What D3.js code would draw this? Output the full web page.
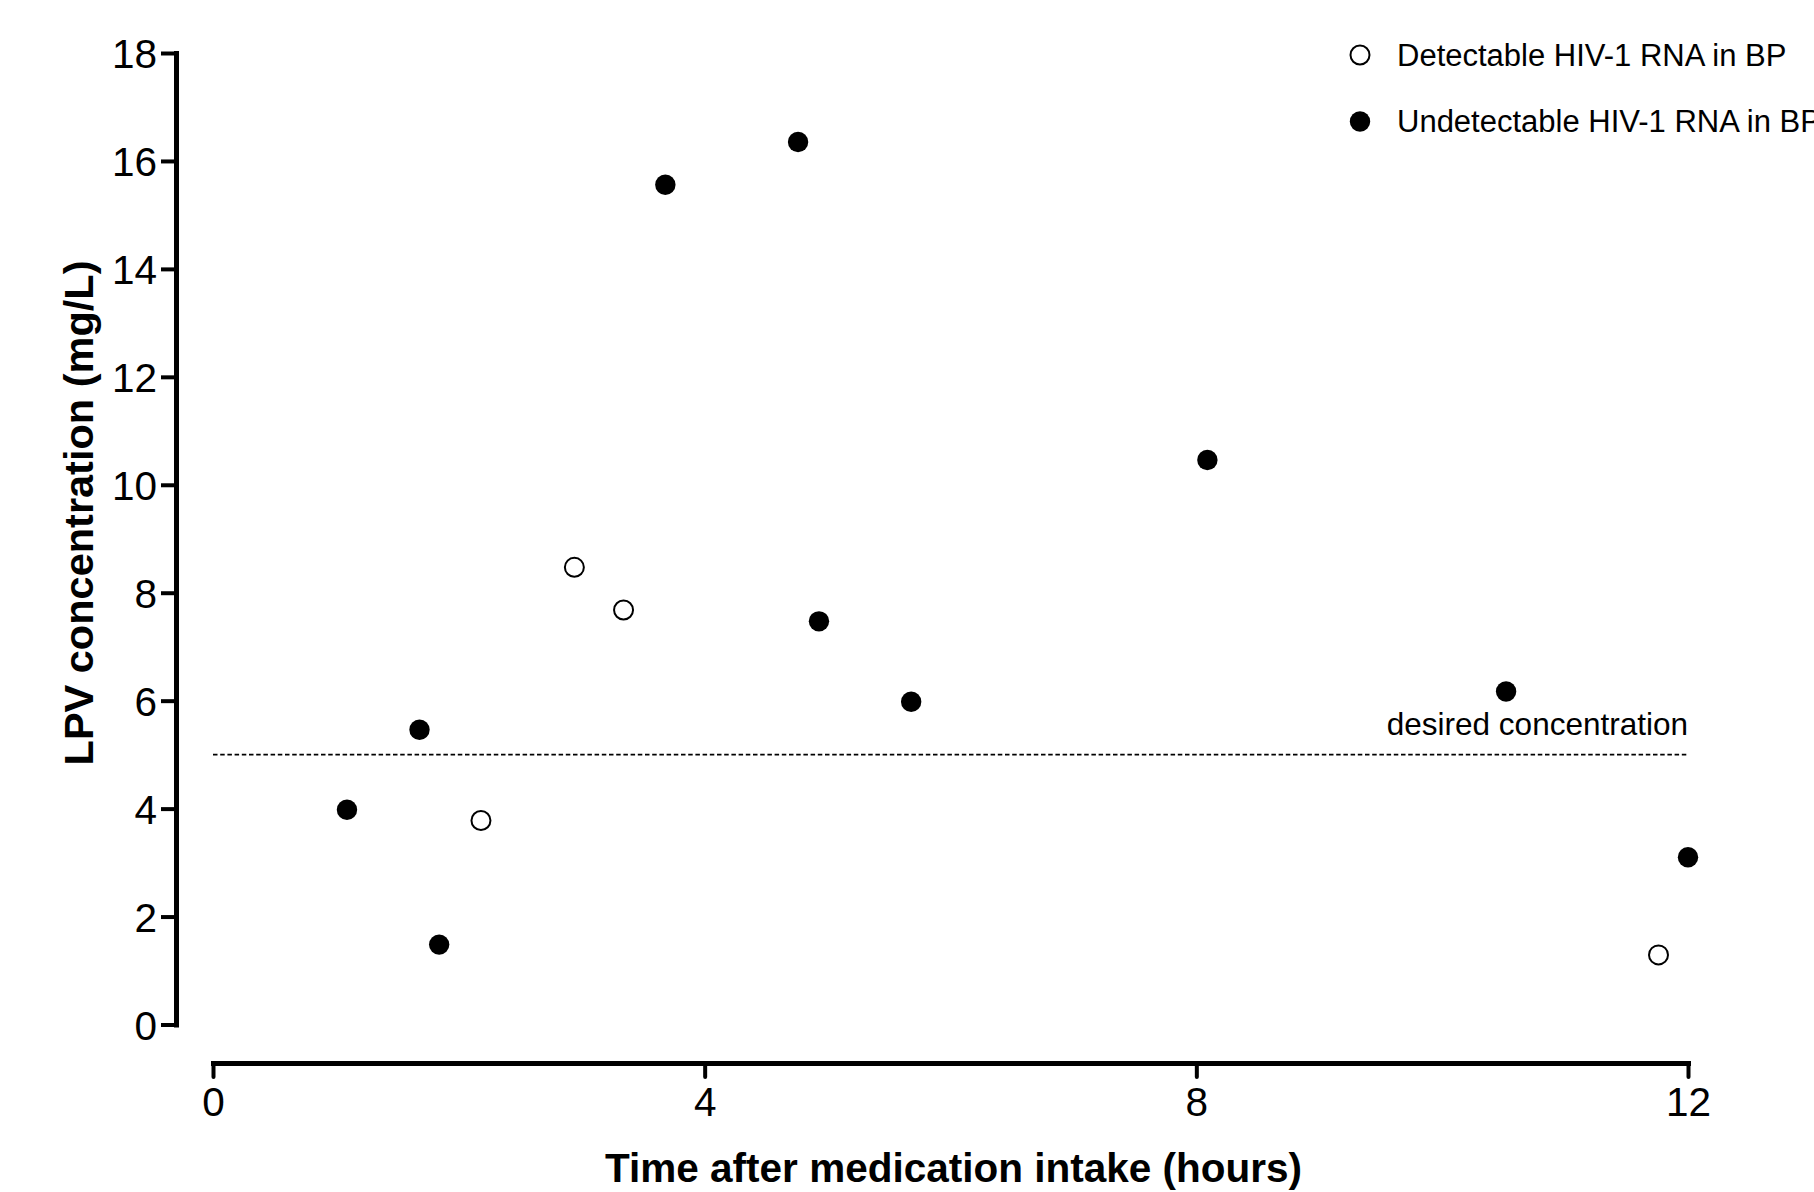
<!DOCTYPE html>
<html>
<head>
<meta charset="utf-8">
<script src="https://cdn.jsdelivr.net/npm/d3@7"></script>
<style>
  html, body { margin: 0; padding: 0; background: #fff; }
  svg { display: block; font-family: Arial, "Liberation Sans", sans-serif; }
</style>
</head>
<body>
<svg id="chart" width="1814" height="1192"></svg>
<script>
// Data (time in hours, LPV concentration in mg/L)
const detectableTime = [2.18, 2.94, 3.34, 11.76];
const detectableConc = [3.78, 8.47, 7.68, 1.29];
const undetectableTime = [1.09, 1.68, 1.84, 3.68, 4.76, 4.93, 5.68, 8.09, 10.52, 12.0];
const undetectableConc = [3.98, 5.46, 1.48, 15.56, 16.35, 7.47, 5.98, 10.46, 6.17, 3.10];
const xTicks = [0, 4, 8, 12];
const yTicks = [0, 2, 4, 6, 8, 10, 12, 14, 16, 18];
const desiredConcentration = 5;
const legendLabels = ["Detectable HIV-1 RNA in BP", "Undetectable HIV-1 RNA in BP"];
const xTitle = "Time after medication intake (hours)";
const yTitle = "LPV concentration (mg/L)";
const lineLabel = "desired concentration";

const svg = d3.select("#chart");

const x = d3.scaleLinear().domain([0, 12]).range([213, 1688]);
const y = d3.scaleLinear().domain([0, 18]).range([1024.5, 53]);

// Y axis
const yAxisG = svg.append("g")
  .attr("transform", "translate(176,0)")
  .call(d3.axisLeft(y).tickValues(yTicks).tickSize(15).tickSizeOuter(0).tickPadding(4));
yAxisG.select(".domain").attr("stroke", "#000").attr("stroke-width", 5).attr("stroke-linecap", "square");
yAxisG.selectAll(".tick line").attr("stroke", "#000").attr("stroke-width", 4);
yAxisG.selectAll(".tick text")
  .attr("fill", "#000")
  .style("font-size", "40.5px")
  .style("font-family", "Arial, 'Liberation Sans', sans-serif")
  .attr("dy", "0.36em");

// X axis
const xAxisG = svg.append("g")
  .attr("transform", "translate(0,1063)")
  .call(d3.axisBottom(x).tickValues(xTicks).tickSize(14).tickSizeOuter(0).tickPadding(10));
xAxisG.select(".domain").attr("stroke", "#000").attr("stroke-width", 5).attr("stroke-linecap", "square");
xAxisG.selectAll(".tick line").attr("stroke", "#000").attr("stroke-width", 4).attr("stroke-linecap", "round");
xAxisG.selectAll(".tick text")
  .attr("fill", "#000")
  .style("font-size", "40.5px")
  .style("font-family", "Arial, 'Liberation Sans', sans-serif");

// Axis titles
svg.append("text")
  .attr("x", (x(0) + x(12)) / 2 + 3)
  .attr("y", 1182)
  .attr("text-anchor", "middle")
  .style("font-size", "40.5px")
  .style("font-weight", "bold")
  .text(xTitle);

svg.append("text")
  .attr("transform", "translate(93,513) rotate(-90)")
  .attr("text-anchor", "middle")
  .style("font-size", "41.5px")
  .style("font-weight", "bold")
  .text(yTitle);

// Desired concentration line
svg.append("line")
  .attr("x1", x(0)).attr("x2", x(12))
  .attr("y1", y(desiredConcentration)).attr("y2", y(desiredConcentration))
  .attr("stroke", "#000")
  .attr("stroke-width", 1.8)
  .attr("stroke-dasharray", "4.5,2.7");

svg.append("text")
  .attr("x", x(12))
  .attr("y", y(desiredConcentration) - 20)
  .attr("text-anchor", "end")
  .style("font-size", "31.5px")
  .text(lineLabel);

// Points
const undetectable = undetectableTime.map((t, i) => ({t, c: undetectableConc[i]}));
const detectable = detectableTime.map((t, i) => ({t, c: detectableConc[i]}));

svg.append("g").selectAll("circle").data(undetectable).join("circle")
  .attr("cx", d => x(d.t)).attr("cy", d => y(d.c))
  .attr("r", 10.2).attr("fill", "#000");

svg.append("g").selectAll("circle").data(detectable).join("circle")
  .attr("cx", d => x(d.t)).attr("cy", d => y(d.c))
  .attr("r", 9.5).attr("fill", "#fff").attr("stroke", "#000").attr("stroke-width", 2);

// Legend
const legend = svg.append("g");
const legendY = [55, 121.5];
legend.append("circle").attr("cx", 1360).attr("cy", legendY[0]).attr("r", 9.5)
  .attr("fill", "#fff").attr("stroke", "#000").attr("stroke-width", 2);
legend.append("circle").attr("cx", 1360).attr("cy", legendY[1]).attr("r", 10.2)
  .attr("fill", "#000");
legendLabels.forEach((lab, i) => {
  legend.append("text")
    .attr("x", 1397)
    .attr("y", legendY[i] + 10.5)
    .style("font-size", "31px")
    .text(lab);
});
</script>
</body>
</html>
